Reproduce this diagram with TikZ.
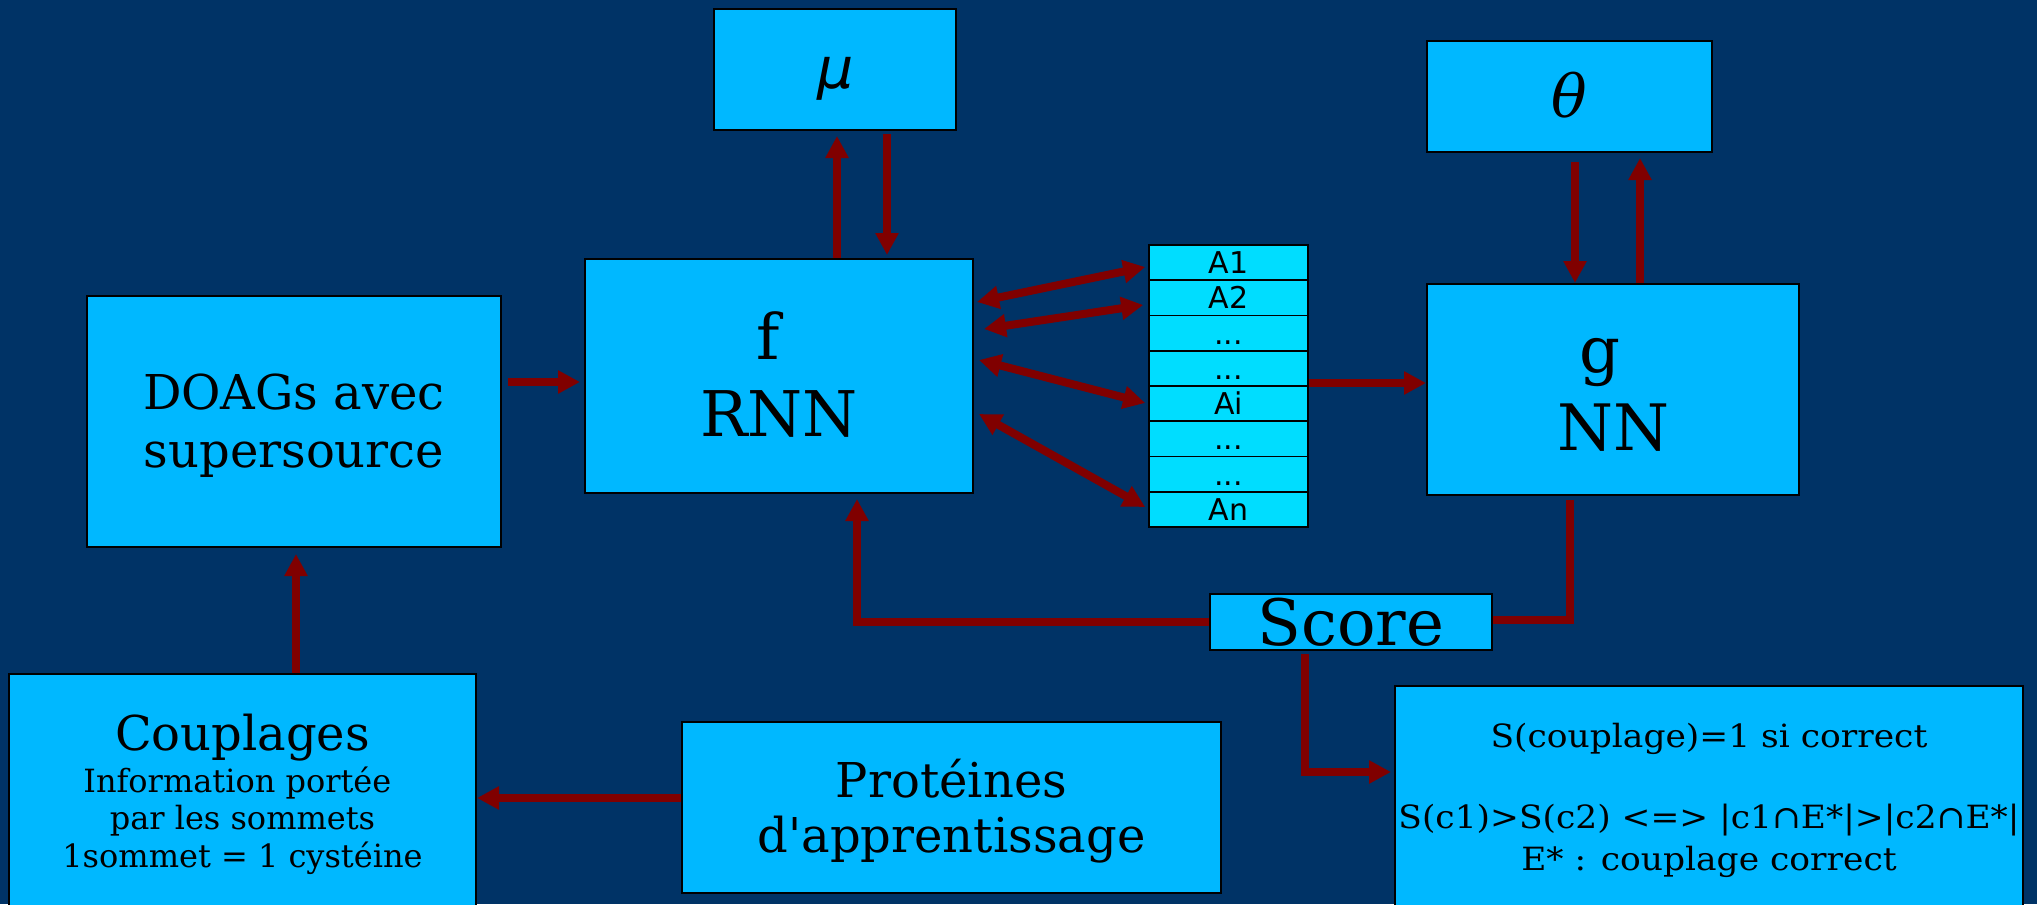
\documentclass[tikz,border=0pt]{standalone}
\usepackage{fontspec}
\setmainfont{DejaVu Serif}
\newfontfamily\cellfont{DejaVu Sans}
\newfontfamily\widefont[FakeStretch=1.077]{DejaVu Serif}
\usetikzlibrary{arrows.meta}
\definecolor{bgblue}{RGB}{0,51,102}
\definecolor{boxcyan}{RGB}{0,184,255}
\definecolor{cellcyan}{RGB}{0,221,255}
\definecolor{arrowred}{RGB}{128,0,0}
% centred lines whose first baseline is the node's base
\newcommand{\stacklines}[1]{\begin{tabular}[t]{@{}c@{}}#1\end{tabular}}

\begin{document}
\begin{tikzpicture}[x=0.5pt,y=-0.5pt,
  blk/.style={draw=black,line width=1pt,fill=boxcyan,inner sep=0pt},
  cellbox/.style={draw=black,line width=0.8pt,fill=cellcyan,inner sep=0pt,
    minimum width=79.5pt,minimum height=17.625pt,text height=11pt,text depth=0pt,
    font=\cellfont\fontsize{15pt}{18pt}\selectfont},
  txt/.style={inner sep=0pt,anchor=base},
  conn/.style={draw=arrowred,line width=4pt},
  arr/.style={conn,-{Triangle[width=11pt,length=11pt]}},
  dblarr/.style={conn,{Triangle[width=11pt,length=11pt]}-{Triangle[width=11pt,length=11pt]}}]

\fill[bgblue] (0,0) rectangle (2037,904);
\useasboundingbox (0,0) rectangle (2037,904);

% parameter boxes
\node[blk,minimum width=121pt,minimum height=60.5pt] (mu) at (835,69.5) {};
\node[txt,font=\cellfont\itshape\fontsize{28.5pt}{34pt}\selectfont] (muT) at (836,89) {μ};
\node[blk,minimum width=142.5pt,minimum height=55.5pt] (theta) at (1569.5,96.5) {};
\node[txt,font=\itshape\fontsize{29.5pt}{35pt}\selectfont] (thetaT) at (1569,118) {θ};

% networks
\node[blk,minimum width=194pt,minimum height=117pt] (f) at (779,376) {};
\node[txt,font=\fontsize{31.5pt}{38.5pt}\selectfont] (fT) at (779,359) {\stacklines{f\kern0.35em\\RNN}};
\node[blk,minimum width=186pt,minimum height=105.5pt] (g) at (1613,389.5) {};
\node[txt,font=\fontsize{32pt}{39pt}\selectfont] (gT) at (1613,372) {\stacklines{g\kern0.4em\\NN}};

% input graphs
\node[blk,minimum width=207pt,minimum height=125.5pt] (doags) at (294,421.5) {};
\node[txt,font=\fontsize{24pt}{29pt}\selectfont] (doagsT) at (294,409) {\stacklines{DOAGs avec\\supersource}};

% state column
\node[cellbox] (c1) at (1228.5,262.6) {A1};
\node[cellbox] (c2) at (1228.5,297.9) {A2};
\node[cellbox] (c3) at (1228.5,333.1) {...};
\node[cellbox] (c4) at (1228.5,368.4) {...};
\node[cellbox] (c5) at (1228.5,403.6) {Ai};
\node[cellbox] (c6) at (1228.5,438.9) {...};
\node[cellbox] (c7) at (1228.5,474.1) {...};
\node[cellbox] (c8) at (1228.5,509.4) {An};

% score
\node[blk,minimum width=141pt,minimum height=28pt,text depth=0pt,
  font=\fontsize{32pt}{38pt}\selectfont] (score) at (1351,622) {Score};

% bottom row
\node[blk,minimum width=233.5pt,minimum height=128pt] (coupl) at (242.5,802) {};
\node[txt,font=\fontsize{16pt}{18.75pt}\selectfont] (couplT) at (242.5,750)
  {\stacklines{{\fontsize{24pt}{28pt}\selectfont Couplages}\\[2.25pt]Information portée\kern0.32em\\par les sommets\\1sommet = 1 cystéine}};
\node[blk,minimum width=269.5pt,minimum height=85.5pt] (prot) at (951.5,807.5) {};
\node[txt,font=\fontsize{24pt}{27.5pt}\selectfont] (protT) at (951.5,797)
  {\stacklines{Protéines\\d\textquotesingle apprentissage}};
\node[blk,minimum width=314pt,minimum height=122pt] (br) at (1709,808) {};
\node[txt,font=\widefont\fontsize{16pt}{21pt}\selectfont] (brT) at (1709,747)
  {\stacklines{S(couplage)=1 si correct\\[19.5pt]S(c1)>S(c2) <=> |c1∩E*|>|c2∩E*|\\E* : couplage correct}};

% connectors
\draw[arr] ([xshift=3pt]doags.east |- 0,382) -- ([xshift=-2pt]f.west |- 0,382);
\draw[arr] (837,0 |- f.north) -- ([yshift=-2.5pt]837,0 |- mu.south);
\draw[arr] ([yshift=-1.5pt]887,0 |- mu.south) -- ([yshift=1.5pt]887,0 |- f.north);
\draw[arr] ([yshift=-4.5pt]1575,0 |- theta.south) -- (1575,0 |- g.north);
\draw[arr] (1640,0 |- g.north) -- ([yshift=-2.5pt]1640,0 |- theta.south);
\draw[arr] (c4.east |- 0,383) -- (g.west |- 0,383);
\draw[dblarr] ([xshift=1.5pt]f.east |- 0,302) -- ([xshift=-1.5pt]c1.west |- 0,267);
\draw[dblarr] ([xshift=5pt]f.east |- 0,329) -- ([xshift=-2.5pt]c2.west |- 0,305);
\draw[dblarr] ([xshift=2.5pt]f.east |- 0,360) -- ([xshift=-1.5pt]c5.west |- 0,403);
\draw[dblarr] ([xshift=2.5pt]f.east |- 0,414) -- ([xshift=-1.5pt]c8.west |- 0,507);
\draw[conn] ([yshift=-2pt]1570,0 |- g.south) |- (score.east |- 0,620);
\draw[arr] (score.west |- 0,622) -| ([yshift=-2.5pt]857,0 |- f.south);
\draw[arr] ([yshift=-1.5pt]1305,0 |- score.south) |- ([xshift=-1.5pt]br.west |- 0,772);
\draw[arr] (296,0 |- coupl.north) -- ([yshift=-3pt]296,0 |- doags.south);
\draw[arr] (prot.west |- 0,798) -- (coupl.east |- 0,798);
\end{tikzpicture}
\end{document}
